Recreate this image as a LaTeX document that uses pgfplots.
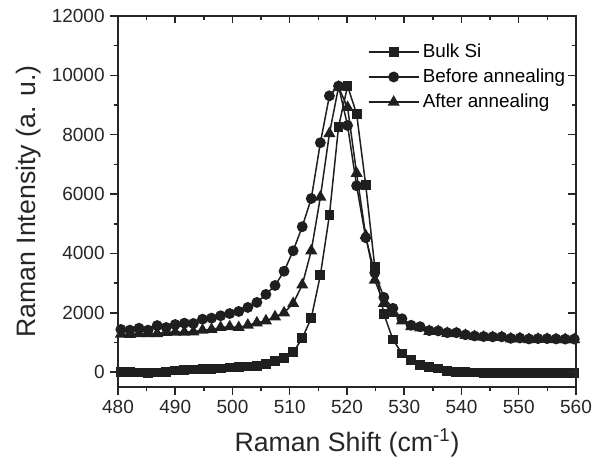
\documentclass[border=0pt]{standalone}
\usepackage{fontspec}
\setmainfont{Liberation Sans}
\usepackage{pgfplots}
\pgfplotsset{compat=1.18}
\usepackage{pgfplotstable}

% x (cm^-1), bulk Si, before annealing, after annealing
\pgfplotstableread{
x bulk before after
480.50 0 1440 1280
482.08 0 1415 1270
483.67 -10 1480 1300
485.25 -20 1415 1300
486.84 -10 1570 1300
488.42 0 1505 1340
490.00 55 1605 1350
491.59 65 1650 1350
493.17 90 1640 1360
494.76 100 1785 1415
496.34 110 1820 1440
497.92 125 1900 1505
499.51 155 1975 1530
501.09 180 2045 1505
502.68 190 2180 1585
504.26 200 2350 1660
505.84 280 2620 1730
507.43 380 2920 1865
509.01 490 3400 2000
510.60 670 4090 2315
512.18 1140 4900 2940
513.76 1820 5850 4090
515.35 3270 7730 5900
516.93 5290 9310 8040
518.52 8260 9640 9600
520.10 9640 8310 8920
521.68 8700 6280 6700
523.27 6310 4530 4600
524.85 3550 3350 3100
526.44 1960 2520 2320
528.02 1100 2150 1980
529.60 630 1800 1730
531.19 400 1580 1530
532.77 240 1530 1490
534.36 160 1400 1370
535.94 125 1390 1370
537.52 45 1330 1310
539.11 10 1330 1300
540.69 0 1260 1240
542.28 -10 1220 1200
543.86 -20 1200 1180
545.44 -20 1190 1170
547.03 -20 1190 1170
548.61 -20 1140 1120
550.20 -20 1150 1130
551.78 -20 1120 1100
553.36 -20 1130 1110
554.95 -20 1130 1110
556.53 -20 1120 1100
558.12 -20 1115 1095
559.70 -20 1115 1095
}\ramandata

\pgfplotsset{
  ramanbox/.style={
    scale only axis,
    width=274.8pt, height=222.6pt,
    xmin=480, xmax=560, ymin=-500, ymax=12000,
    xtick={480,490,...,560}, minor x tick num=1,
    ytick={0,2000,...,12000}, minor y tick num=1,
    scaled ticks=false,
    axis line style={line width=0.9pt, black!85},
    major tick style={line width=0.9pt, black!85},
    minor tick style={line width=0.9pt, black!85},
    major tick length=4.5pt, minor tick length=2.6pt,
  },
  ramanline/.style={line width=0.9pt, black!88, mark options={solid, fill=black!88, draw=black!88}},
}

\begin{document}
\begin{tikzpicture}
\path[use as bounding box] (-70.8pt,-48pt) rectangle (289.8pt,232.2pt);
\begin{axis}[
  ramanbox,
  tick align=outside, xtick pos=bottom, ytick pos=left,
  /pgf/number format/assume math mode=true,
  /pgf/number format/set thousands separator={},
  tick label style={font=\fontsize{11.4}{13}\selectfont, black!85},
  xlabel={Raman Shift (cm\textsuperscript{-1})},
  ylabel={Raman Intensity (a. u.)},
  label style={font=\fontsize{16}{19}\selectfont, black!85},
  x label style={at={(axis description cs:0.5,-0.15)}, anchor=center},
  y label style={at={(axis description cs:-0.195,0.5)}, anchor=center},
  legend style={at={(axis description cs:0.545,0.935)}, anchor=north west,
    draw=none, fill=none, font=\fontsize{11.3}{13}\selectfont,
    row sep=1.4pt, inner sep=0pt},
  legend cell align=left,
  legend image code/.code={
    \draw[mark repeat=2, mark phase=2, #1] plot coordinates {(0pt,0pt) (15pt,0pt) (30pt,0pt)};
  },
]
\addplot[ramanline, mark=square*, mark size=2.5pt] table[x=x, y=bulk] {\ramandata};
\addlegendentry{Bulk Si}
\addplot[ramanline, mark=*, mark size=2.8pt] table[x=x, y=before] {\ramandata};
\addlegendentry{Before annealing}
\addplot[ramanline, mark=triangle*, mark size=3.3pt] table[x=x, y=after] {\ramandata};
\addlegendentry{After annealing}
\end{axis}
\begin{axis}[
  ramanbox,
  tick align=inside, xtick pos=top, ytick pos=right,
  xticklabels={}, yticklabels={},
]
\end{axis}
\end{tikzpicture}
\end{document}
